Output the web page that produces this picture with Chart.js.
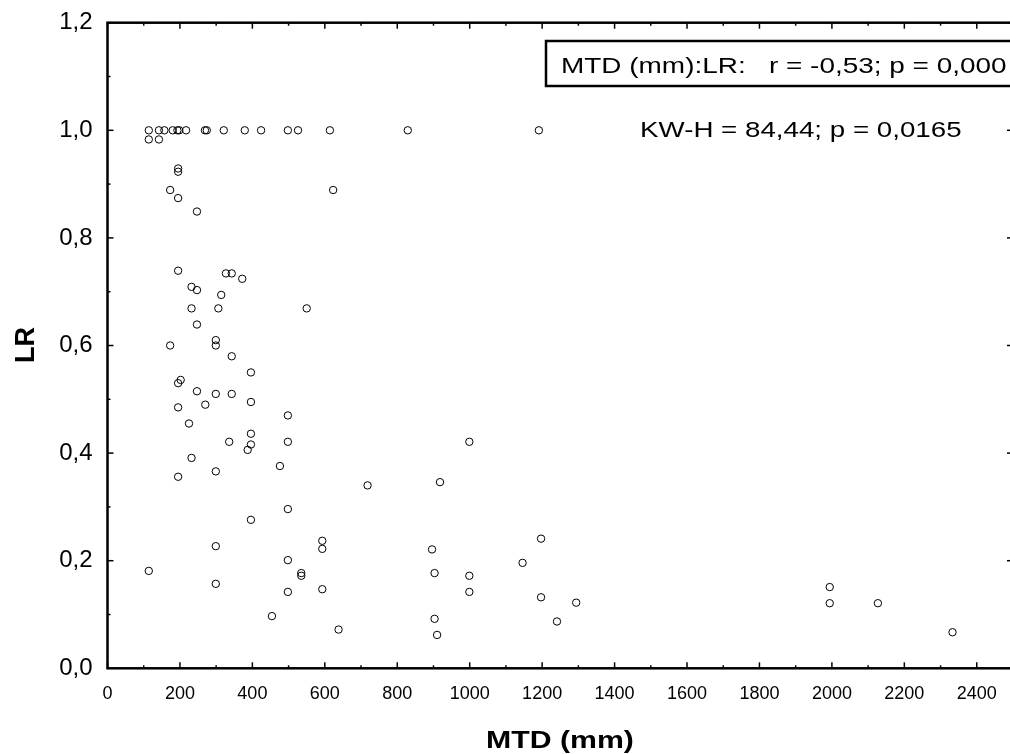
<!DOCTYPE html>
<html>
<head>
<meta charset="utf-8">
<script src="https://cdn.jsdelivr.net/npm/chart.js@4.4.0/dist/chart.umd.min.js"></script>
<style>
html, body { margin: 0; padding: 0; background: #fff; }
#wrap { width: 1010px; height: 754px; }
</style>
</head>
<body>
<div id="wrap"><canvas id="lrChart" width="1010" height="754"></canvas></div>
<script>
// MTD (mm) vs LR
const mtd = [
   114, 142, 157, 180, 193, 198, 217, 269, 274, 321, 379, 424, 498, 526, 614, 829, 1191,
   114, 142, 195, 195, 173, 623, 195, 247,
   195, 327, 343, 372, 232, 247, 314, 232, 306, 550, 247, 173, 299, 299, 343, 396,
   202, 195, 247, 299, 343, 396, 195, 270, 498, 225,
   396, 336, 396, 498, 387, 232, 476, 299, 195, 498, 396, 299, 593, 593, 114, 498,
   535, 535, 299, 498, 593, 454, 638,
   999, 718, 918, 896, 903, 999, 999, 1197, 1146, 1197, 1294, 1241, 903, 910,
   1994, 1994, 2127, 2333
];
const lr = [
   1.0, 1.0, 1.0, 1.0, 1.0, 1.0, 1.0, 1.0, 1.0, 1.0, 1.0, 1.0, 1.0, 1.0, 1.0, 1.0, 1.0,
   0.983, 0.983, 0.929, 0.923, 0.889, 0.889, 0.874, 0.849,
   0.739, 0.734, 0.734, 0.724, 0.709, 0.703, 0.694, 0.669, 0.669, 0.669, 0.639, 0.600, 0.610, 0.600, 0.580, 0.550,
   0.536, 0.530, 0.515, 0.510, 0.510, 0.495, 0.485, 0.490, 0.470, 0.455,
   0.436, 0.421, 0.416, 0.421, 0.406, 0.391, 0.376, 0.366, 0.356, 0.296, 0.276, 0.227, 0.237, 0.222, 0.181, 0.201,
   0.177, 0.172, 0.157, 0.142, 0.147, 0.097, 0.072,
   0.421, 0.340, 0.346, 0.221, 0.177, 0.172, 0.142, 0.241, 0.196, 0.132, 0.122, 0.087, 0.092, 0.062,
   0.151, 0.121, 0.121, 0.067
];
const xTicks = [0, 200, 400, 600, 800, 1000, 1200, 1400, 1600, 1800, 2000, 2200, 2400];
const yTicks = [0, 0.2, 0.4, 0.6, 0.8, 1.0, 1.2];
const xTitle = 'MTD (mm)';
const yTitle = 'LR';
const corrText = 'MTD (mm):LR:   r = -0,53; p = 0,000';
const kwText = 'KW-H = 84,44; p = 0,0165';

const FONT = '"Liberation Sans", Arial, sans-serif';
Chart.defaults.font.family = FONT;
Chart.defaults.color = '#000';

function seg(ctx, x1, y1, x2, y2) {
   ctx.beginPath();
   ctx.moveTo(x1, y1);
   ctx.lineTo(x2, y2);
   ctx.stroke();
}

// text a bit wider than the font, like the original export
function wideText(ctx, text, x, y, sx, align) {
   ctx.save();
   ctx.translate(x, y);
   ctx.scale(sx, 1);
   ctx.textAlign = align;
   ctx.fillText(text, 0, 0);
   ctx.restore();
}

// the plot frame runs a few px past the right edge of the canvas
const stretchPlugin = {
   id: 'stretch',
   afterLayout(chart) {
      const x = chart.scales.x;
      const right = chart.width + 3;
      chart.chartArea.right = right;
      chart.chartArea.width = right - chart.chartArea.left;
      x.right = right;
      x.width = right - x.left;
      x.configure();
   }
};

// frame, inward ticks, axis titles and the two notes
const framePlugin = {
   id: 'frame',
   afterDatasetsDraw(chart) {
      const { ctx, chartArea: a, scales: { x, y } } = chart;
      ctx.save();
      ctx.strokeStyle = '#000';
      ctx.lineWidth = 1.5;
      const xStep = xTicks[1] - xTicks[0];
      const yStep = yTicks[1] - yTicks[0];
      xTicks.forEach(v => {
         let px = x.getPixelForValue(v);
         seg(ctx, px, a.bottom, px, a.bottom - 6);
         seg(ctx, px, a.top, px, a.top + 6);
         px = x.getPixelForValue(v + xStep / 2);
         if (px < a.right) {
            seg(ctx, px, a.bottom, px, a.bottom - 3);
            seg(ctx, px, a.top, px, a.top + 3);
         }
      });
      yTicks.forEach(v => {
         let py = y.getPixelForValue(v);
         seg(ctx, a.left, py, a.left + 6, py);
         seg(ctx, a.right, py, a.right - 6, py);
         py = y.getPixelForValue(v + yStep / 2);
         if (py > a.top) {
            seg(ctx, a.left, py, a.left + 3, py);
            seg(ctx, a.right, py, a.right - 3, py);
         }
      });
      ctx.lineWidth = 2.5;
      ctx.strokeRect(a.left, a.top, a.right - a.left, a.bottom - a.top);

      // stats box
      ctx.strokeRect(546, 41, 480, 45);
      ctx.fillStyle = '#000';
      ctx.textBaseline = 'alphabetic';
      ctx.font = '22px ' + FONT;
      wideText(ctx, corrText, 561, 73, 1.27, 'left');
      wideText(ctx, kwText, 640, 137, 1.26, 'left');

      // axis titles
      ctx.font = 'bold 24px ' + FONT;
      wideText(ctx, xTitle, 560, 748, 1.26, 'center');
      ctx.save();
      ctx.translate(34, 345);
      ctx.rotate(-Math.PI / 2);
      ctx.font = 'bold 27px ' + FONT;
      ctx.textAlign = 'center';
      ctx.fillText(yTitle, 0, 0);
      ctx.restore();
      ctx.restore();
   }
};

const ctx = document.getElementById('lrChart').getContext('2d');
const lrChart = new Chart(ctx, {
   type: 'scatter',
   data: {
      datasets: [
         {
            label: 'LR',
            data: mtd.map((v, i) => ({ x: v, y: lr[i] })),
            pointRadius: 3.7,
            pointBorderWidth: 1,
            pointBorderColor: '#000',
            pointBackgroundColor: 'rgba(0,0,0,0)'
         }
      ]
   },
   options: {
      responsive: false,
      animation: false,
      layout: {
         padding: { top: 22.7, right: 0, left: 0, bottom: 0 }
      },
      plugins: {
         legend: { display: false },
         tooltip: { enabled: false }
      },
      scales: {
         x: {
            type: 'linear',
            min: 0,
            max: 2500,
            grid: { display: false, drawTicks: false },
            border: { display: false },
            afterFit: s => { s.height = 754 - 668.3; s.paddingLeft = 0; s.paddingRight = 0; },
            afterBuildTicks: s => { s.ticks = xTicks.map(v => ({ value: v })); },
            ticks: {
               autoSkip: false,
               maxRotation: 0,
               padding: 15,
               font: { size: 18 },
               callback: v => String(v)
            }
         },
         y: {
            type: 'linear',
            min: 0,
            max: 1.2,
            grid: { display: false, drawTicks: false },
            border: { display: false },
            afterFit: s => { s.width = 107.5; s.paddingTop = 0; s.paddingBottom = 0; },
            afterBuildTicks: s => { s.ticks = yTicks.map(v => ({ value: v })); },
            ticks: {
               padding: 15,
               font: { size: 24 },
               callback: v => v.toFixed(1).replace('.', ',')
            }
         }
      }
   },
   plugins: [stretchPlugin, framePlugin]
});
</script>
</body>
</html>
